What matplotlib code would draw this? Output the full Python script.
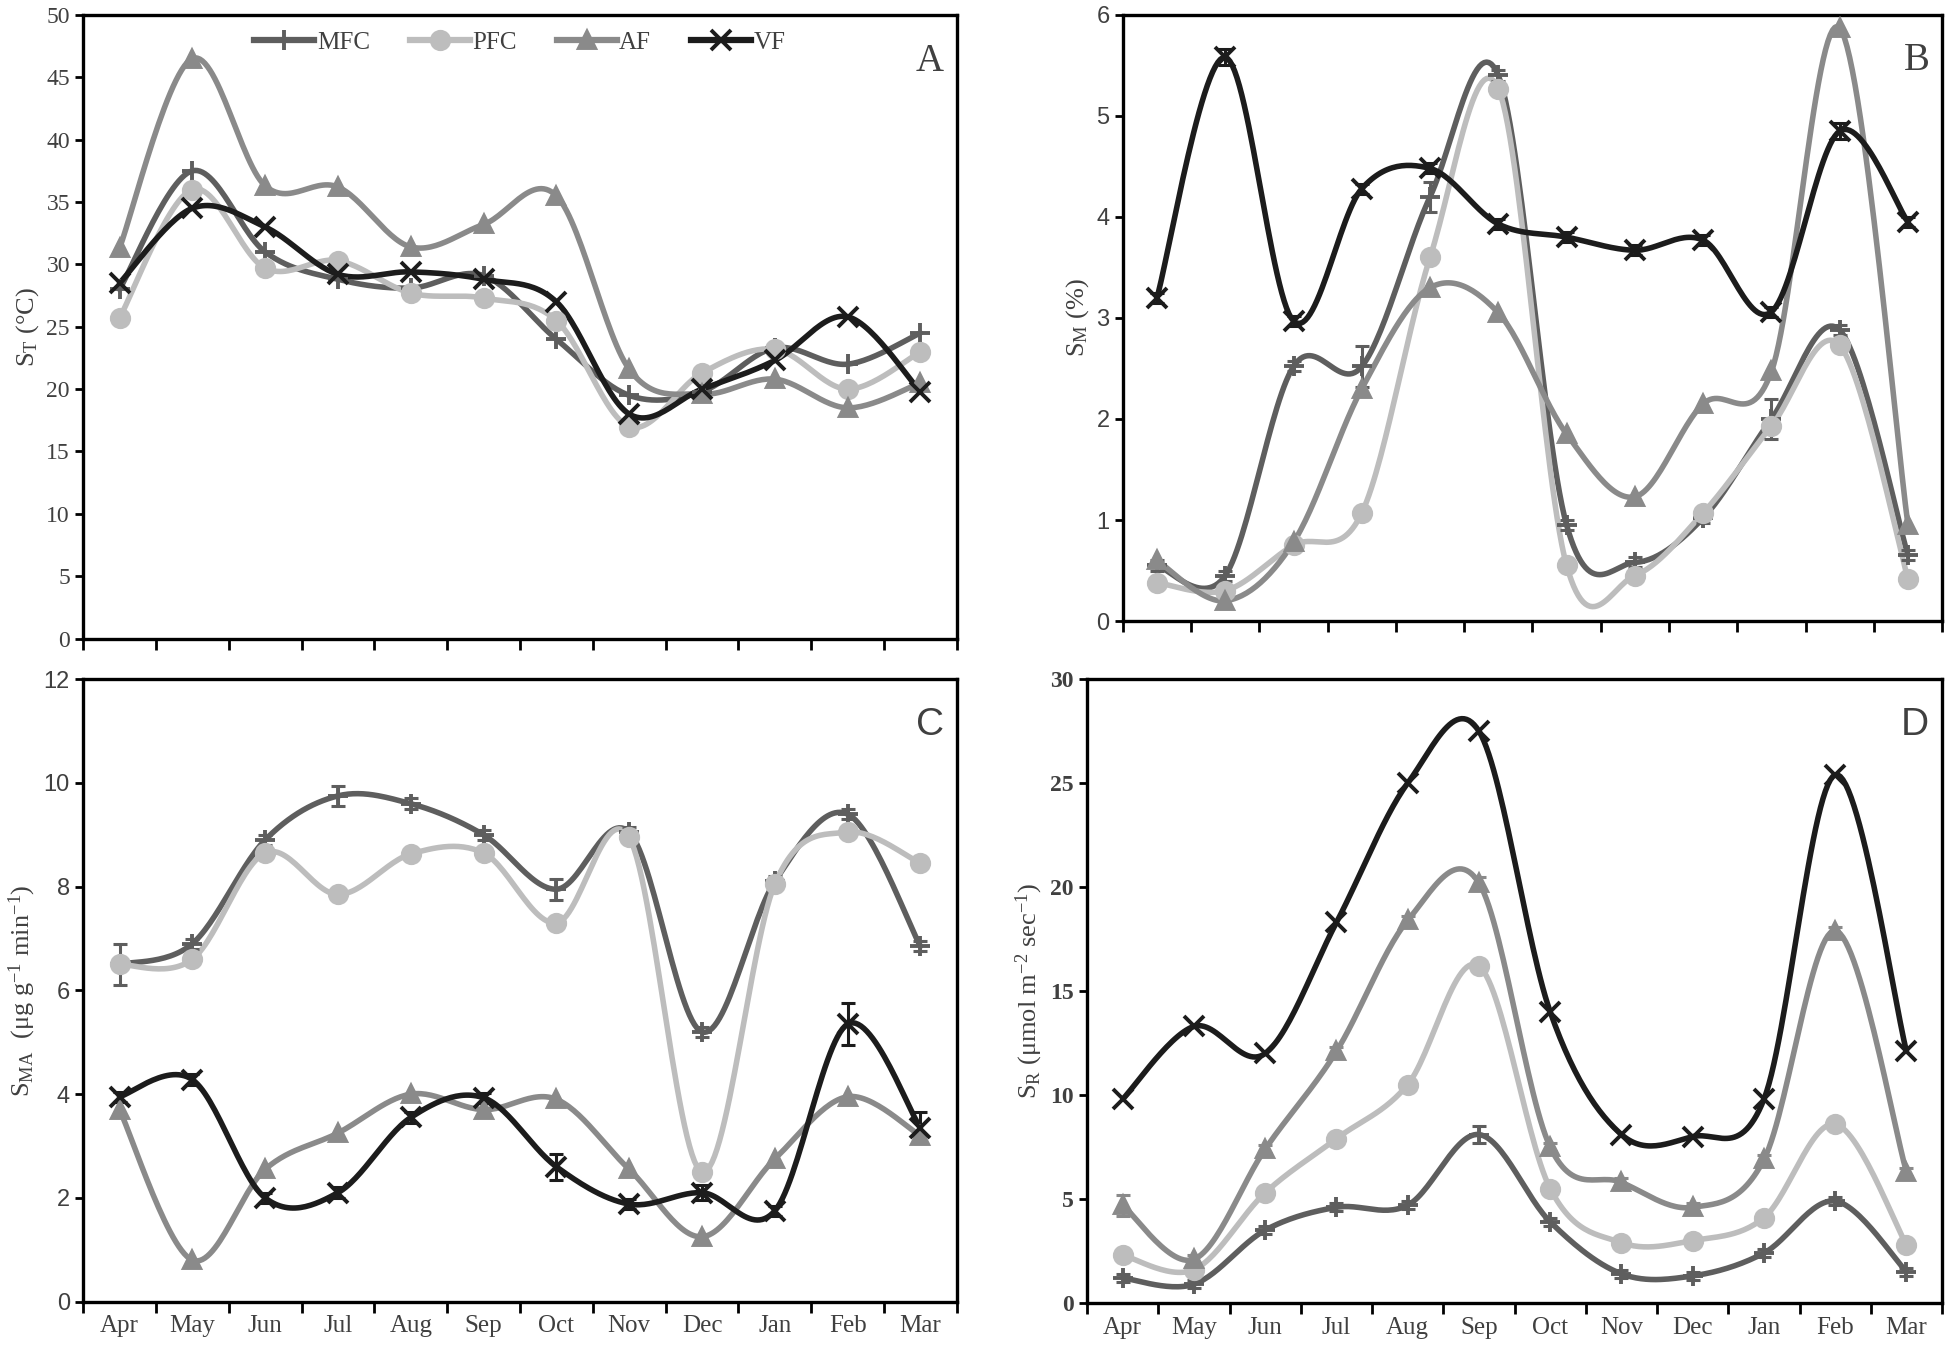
import numpy as np
import matplotlib
matplotlib.use("Agg")
import matplotlib.pyplot as plt

plt.rcParams['font.family'] = ['Liberation Serif', 'DejaVu Serif']
plt.rcParams['mathtext.fontset'] = 'custom'
plt.rcParams['mathtext.rm'] = 'Liberation Serif'
plt.rcParams['mathtext.it'] = 'Liberation Serif:italic'

months = ['Apr', 'May', 'Jun', 'Jul', 'Aug', 'Sep', 'Oct', 'Nov', 'Dec', 'Jan', 'Feb', 'Mar']
series = ['MFC', 'PFC', 'AF', 'VF']

# A: soil temperature
st_mfc = [28.0, 37.5, 31.0, 28.8, 28.1, 29.1, 24.0, 19.5, 19.8, 23.3, 22.0, 24.5]
st_pfc = [25.7, 36.0, 29.7, 30.3, 27.7, 27.3, 25.5, 17.0, 21.3, 23.2, 20.0, 23.0]
st_af = [31.3, 46.5, 36.3, 36.2, 31.4, 33.2, 35.5, 21.6, 19.6, 20.8, 18.5, 20.5]
st_vf = [28.5, 34.5, 33.0, 29.2, 29.4, 28.8, 27.0, 18.0, 20.0, 22.3, 25.8, 19.8]

# B: soil moisture
sm_mfc = [0.55, 0.45, 2.52, 2.52, 4.2, 5.4, 0.95, 0.58, 1.02, 2.0, 2.88, 0.65]
sm_pfc = [0.38, 0.30, 0.75, 1.07, 3.6, 5.27, 0.55, 0.45, 1.07, 1.93, 2.73, 0.42]
sm_af = [0.60, 0.20, 0.78, 2.3, 3.3, 3.05, 1.85, 1.23, 2.15, 2.47, 5.87, 0.95]
sm_vf = [3.2, 5.58, 2.97, 4.28, 4.48, 3.93, 3.8, 3.67, 3.77, 3.06, 4.85, 3.95]

# C: microbial activity
sma_mfc = [6.5, 6.9, 8.9, 9.75, 9.6, 9.0, 7.95, 9.05, 5.2, 8.1, 9.4, 6.85]
sma_pfc = [6.5, 6.6, 8.65, 7.85, 8.63, 8.65, 7.3, 8.95, 2.5, 8.05, 9.05, 8.45]
sma_af = [3.7, 0.8, 2.55, 3.25, 4.0, 3.7, 3.9, 2.55, 1.25, 2.75, 3.95, 3.2]
sma_vf = [3.95, 4.28, 2.0, 2.1, 3.55, 3.93, 2.6, 1.88, 2.1, 1.75, 5.35, 3.35]

# D: soil respiration
sr_mfc = [1.2, 0.9, 3.5, 4.6, 4.7, 8.1, 3.9, 1.4, 1.3, 2.4, 4.9, 1.5]
sr_pfc = [2.3, 1.6, 5.3, 7.9, 10.5, 16.2, 5.5, 2.9, 3.0, 4.1, 8.6, 2.8]
sr_af = [4.7, 2.1, 7.4, 12.1, 18.4, 20.2, 7.5, 5.8, 4.6, 6.9, 17.9, 6.3]
sr_vf = [9.8, 13.3, 12.0, 18.3, 25.0, 27.5, 14.0, 8.1, 8.0, 9.8, 25.4, 12.1]

# error bars (only the visible ones)
sm_mfc_err = [0.05, 0.05, 0.05, 0.2, 0.15, 0.05, 0.05, 0.05, 0.05, 0.2, 0.05, 0.05]
sm_vf_err = [0.05, 0.08, 0.05, 0.05, 0.05, 0.05, 0.05, 0.05, 0.05, 0.05, 0.08, 0.05]
sma_mfc_err = [0.4, 0.1, 0.1, 0.2, 0.1, 0.1, 0.2, 0.1, 0.1, 0.1, 0.1, 0.1]
sma_vf_err = [0.1, 0.1, 0.1, 0.1, 0.1, 0.1, 0.25, 0.1, 0.15, 0.1, 0.4, 0.3]
sr_af_err = [0.5, 0.2, 0.2, 0.2, 0.2, 0.3, 0.2, 0.2, 0.2, 0.2, 0.2, 0.2]
sr_mfc_err = [0.2, 0.2, 0.2, 0.2, 0.2, 0.4, 0.2, 0.2, 0.2, 0.2, 0.2, 0.2]

colors = {'MFC': '#5e5e5e', 'PFC': '#bdbdbd', 'AF': '#8a8a8a', 'VF': '#1c1c1c'}
markers = {'MFC': '+', 'PFC': 'o', 'AF': '^', 'VF': 'x'}
msizes = {'MFC': 15, 'PFC': 12.5, 'AF': 11.5, 'VF': 15}


def smooth(y, n=30):
    # Excel style smoothed line (Catmull-Rom through the points)
    y = np.asarray(y, float)
    x = np.arange(len(y), dtype=float)
    xs, ys = [], []
    t = np.linspace(0, 1, n)
    for i in range(len(y) - 1):
        i0, i3 = max(i - 1, 0), min(i + 2, len(y) - 1)
        p0 = np.array([x[i], y[i]])
        p3 = np.array([x[i + 1], y[i + 1]])
        c1 = p0 + (np.array([x[i + 1], y[i + 1]]) - np.array([x[i0], y[i0]])) / 6
        c2 = p3 - (np.array([x[i3], y[i3]]) - np.array([x[i], y[i]])) / 6
        b = ((1 - t) ** 3)[:, None] * p0 + (3 * (1 - t) ** 2 * t)[:, None] * c1 \
            + (3 * (1 - t) * t ** 2)[:, None] * c2 + (t ** 3)[:, None] * p3
        xs.append(b[:, 0])
        ys.append(b[:, 1])
    return np.concatenate(xs), np.concatenate(ys)


fig = plt.figure(figsize=(19.46, 13.53), dpi=100)
axA = fig.add_axes([0.0427, 0.528, 0.449, 0.461])
axB = fig.add_axes([0.577, 0.541, 0.421, 0.448])
axC = fig.add_axes([0.0427, 0.038, 0.449, 0.460])
axD = fig.add_axes([0.5586, 0.037, 0.4394, 0.461])

panels = [
    (axA, [st_mfc, st_pfc, st_af, st_vf], {}, 50, 5, 'A', r'S$_\mathrm{T}$ (°C)', 'serif', 'serif'),
    (axB, [sm_mfc, sm_pfc, sm_af, sm_vf], {'MFC': sm_mfc_err, 'VF': sm_vf_err}, 6, 1, 'B', r'S$_\mathrm{M}$ (%)', 'sans', 'serif'),
    (axC, [sma_mfc, sma_pfc, sma_af, sma_vf], {'MFC': sma_mfc_err, 'VF': sma_vf_err}, 12, 2, 'C',
     r'S$_\mathrm{MA}$  ($\mathrm{\mu}$g g$^{-1}$ min$^{-1}$)', 'sans', 'sans'),
    (axD, [sr_mfc, sr_pfc, sr_af, sr_vf], {'MFC': sr_mfc_err, 'AF': sr_af_err}, 30, 5, 'D',
     r'S$_\mathrm{R}$ ($\mathrm{\mu}$mol m$^{-2}$ sec$^{-1}$)', 'serif_bold', 'sans'),
]

x = np.arange(len(months))
for ax, data, errs, ymax, step, letter, ylabel, ytickfont, letterfont in panels:
    for name, vals in zip(series, data):
        sx, sy = smooth(vals)
        ax.plot(sx, sy, color=colors[name], lw=4, solid_capstyle='round', zorder=2)
        if name in errs:
            ax.errorbar(x, vals, yerr=errs[name], fmt='none', ecolor=colors[name],
                        elinewidth=2.2, capsize=5, capthick=2.2, zorder=3)
        ax.plot(x, vals, linestyle='none', marker=markers[name], ms=msizes[name],
                color=colors[name], mec=colors[name], mew=2.8, zorder=4,
                label=name)
    ax.set_xlim(-0.5, 11.5)
    ax.set_ylim(0, ymax)
    ax.set_yticks(np.arange(0, ymax + step / 2, step))
    ax.set_xticks(np.arange(-0.5, 12, 1))
    ax.set_xticks(x, minor=True)
    ax.tick_params(axis='x', which='major', direction='out', length=8, width=2, labelbottom=False)
    ax.tick_params(axis='x', which='minor', length=0, labelsize=18, pad=10, labelcolor='#404040')
    ax.tick_params(axis='y', direction='out', length=6, width=2, labelsize=17, colors='black')
    for s in ax.spines.values():
        s.set_linewidth(2.4)
    if ytickfont == 'sans':
        for lab in ax.get_yticklabels():
            lab.set_fontfamily(['Liberation Sans', 'DejaVu Sans'])
            lab.set_color('#404040')
    elif ytickfont == 'serif_bold':
        for lab in ax.get_yticklabels():
            lab.set_fontweight('bold')
            lab.set_color('#404040')
    else:
        for lab in ax.get_yticklabels():
            lab.set_color('#404040')
    ax.set_ylabel(ylabel, fontsize=19, color='#404040', labelpad=4)
    lf = ['Liberation Serif'] if letterfont == 'serif' else ['Liberation Sans']
    ax.text(0.985, 0.955, letter, transform=ax.transAxes, ha='right', va='top',
            fontsize=28, family=lf, color='#404040')

for ax in (axC, axD):
    ax.set_xticklabels(months, minor=True)
for ax in (axA, axB):
    ax.tick_params(axis='x', which='minor', labelbottom=False)

leg = axA.legend(loc='upper center', bbox_to_anchor=(0.5, 1.01), ncol=4, frameon=False,
                 fontsize=18, handlelength=2.4, columnspacing=1.6, handletextpad=0.1)
for h, name in zip(leg.legend_handles, series):
    h.set_linestyle('-')
    h.set_linewidth(4.5)
for t in leg.get_texts():
    t.set_color('#404040')

fig.savefig('out.png', dpi=100)
